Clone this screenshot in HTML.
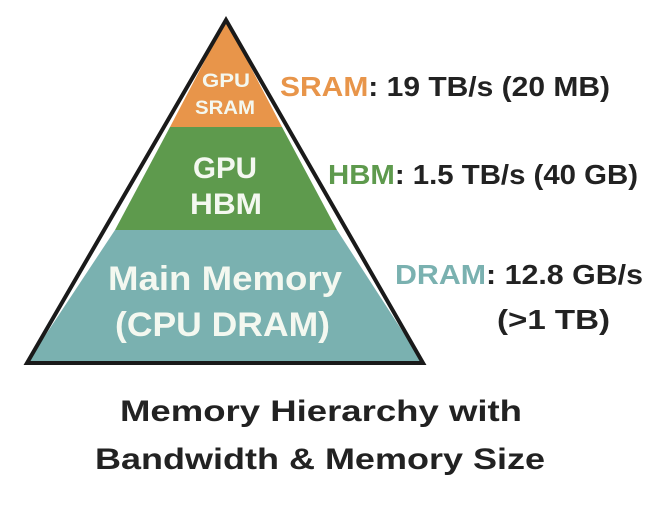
<!DOCTYPE html>
<html><head><style>
body{margin:0;background:#fff;}
svg text{font-family:"Liberation Sans",sans-serif;font-weight:bold;}
</style></head><body>
<svg width="670" height="520" viewBox="0 0 670 520" xmlns="http://www.w3.org/2000/svg">
<polygon points="226,20 170,127 282,127" fill="#e8954a"/>
<polygon points="170,127 282,127 337,230 115,230" fill="#5e9a4d"/>
<polygon points="115,230 337,230 423,363 27,363" fill="#7ab1b0"/>
<polygon points="226,20 423,363 27,363" fill="none" stroke="#1a1a1a" stroke-width="4" stroke-linejoin="miter"/>
<g fill="#f4f8f0">
<text x="202" y="87" font-size="19" textLength="48" lengthAdjust="spacingAndGlyphs">GPU</text>
<text x="195" y="114" font-size="19" textLength="60" lengthAdjust="spacingAndGlyphs">SRAM</text>
<text x="193" y="178" font-size="30" textLength="64" lengthAdjust="spacingAndGlyphs">GPU</text>
<text x="190" y="214" font-size="30" textLength="72" lengthAdjust="spacingAndGlyphs">HBM</text>
<text x="108" y="290" font-size="34" textLength="234" lengthAdjust="spacingAndGlyphs">Main Memory</text>
<text x="115" y="336" font-size="34" textLength="215" lengthAdjust="spacingAndGlyphs">(CPU DRAM)</text>
</g>
<g font-size="28" fill="#222">
<text x="280" y="96" textLength="330" lengthAdjust="spacingAndGlyphs"><tspan fill="#e8954a">SRAM</tspan>: 19 TB/s (20 MB)</text>
<text x="328" y="184" textLength="310" lengthAdjust="spacingAndGlyphs"><tspan fill="#5e9a4d">HBM</tspan>: 1.5 TB/s (40 GB)</text>
<text x="395" y="284" textLength="248" lengthAdjust="spacingAndGlyphs"><tspan fill="#7ab1b0">DRAM</tspan>: 12.8 GB/s</text>
<text x="497" y="329" textLength="113" lengthAdjust="spacingAndGlyphs">(&gt;1 TB)</text>
</g>
<g font-size="30" fill="#222">
<text x="120" y="421" textLength="402" lengthAdjust="spacingAndGlyphs">Memory Hierarchy with</text>
<text x="95" y="469" textLength="450" lengthAdjust="spacingAndGlyphs">Bandwidth &amp; Memory Size</text>
</g>
</svg>
</body></html>
